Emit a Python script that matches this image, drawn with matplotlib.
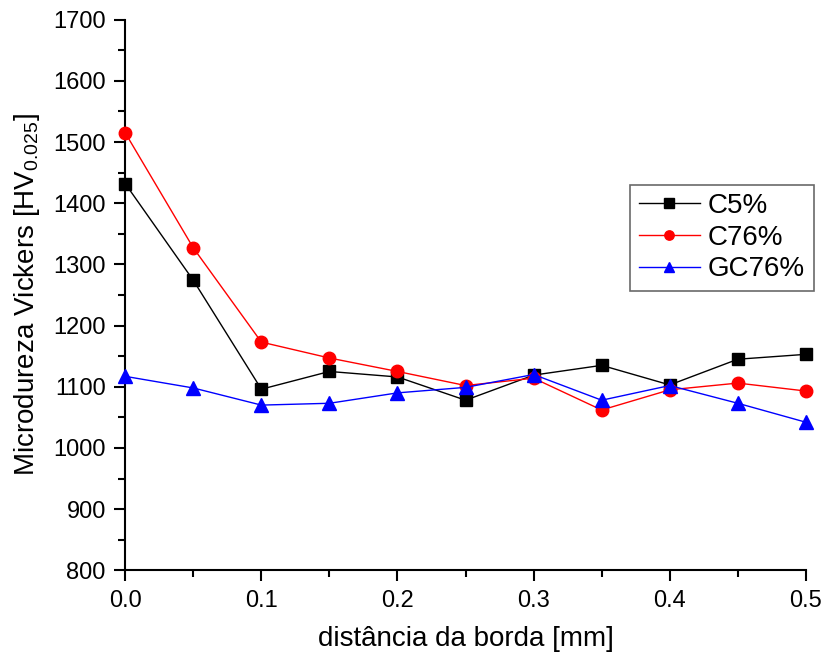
import matplotlib
matplotlib.use("Agg")
import matplotlib.pyplot as plt
from matplotlib.ticker import MultipleLocator

plt.rcParams["font.family"] = ["Liberation Sans", "DejaVu Sans"]
plt.rcParams["mathtext.fontset"] = "custom"
plt.rcParams["mathtext.rm"] = "Liberation Sans"

# distance from the edge [mm]
distance = [0.0, 0.05, 0.10, 0.15, 0.20, 0.25, 0.30, 0.35, 0.40, 0.45, 0.50]

# Vickers microhardness HV0.025
c5 = [1432, 1274, 1096, 1125, 1116, 1078, 1119, 1135, 1103, 1145, 1153]
c76 = [1515, 1327, 1173, 1147, 1125, 1102, 1114, 1062, 1095, 1106, 1093]
gc76 = [1117, 1098, 1070, 1073, 1090, 1099, 1120, 1078, 1102, 1073, 1042]

fig = plt.figure(figsize=(8.24, 6.57), dpi=100)
ax = fig.add_axes([0.152, 0.132, 0.826, 0.838])

ax.plot(distance, c5, color="black", lw=1.0, marker="s", ms=9, label="C5%", clip_on=False, zorder=3)
ax.plot(distance, c76, color="red", lw=1.0, marker="o", ms=9, label="C76%", clip_on=False, zorder=3)
ax.plot(distance, gc76, color="blue", lw=1.0, marker="^", ms=10, label="GC76%", clip_on=False, zorder=3)

ax.set_xlim(0, 0.5)
ax.set_ylim(800, 1700)
ax.xaxis.set_major_locator(MultipleLocator(0.1))
ax.xaxis.set_minor_locator(MultipleLocator(0.05))
ax.yaxis.set_major_locator(MultipleLocator(100))
ax.yaxis.set_minor_locator(MultipleLocator(50))
ax.xaxis.set_major_formatter(plt.FuncFormatter(lambda v, p: f"{v:.1f}"))

for side in ("top", "right"):
    ax.spines[side].set_visible(False)
for side in ("left", "bottom"):
    ax.spines[side].set_linewidth(1.5)

ax.tick_params(which="major", direction="out", length=8, width=1.5, labelsize=17, pad=6)
ax.tick_params(which="minor", direction="out", length=5, width=1.5)

ax.set_xlabel("distância da borda [mm]", fontsize=20, labelpad=10)
ax.set_ylabel("Microdureza Vickers [HV$_{0.025}$]", fontsize=20, labelpad=8)

leg = ax.legend(loc="upper left", bbox_to_anchor=(0.742, 0.70), fontsize=20,
                frameon=True, fancybox=False, edgecolor="#444444",
                handlelength=2.2, handletextpad=0.3, borderpad=0.3,
                labelspacing=0.2, markerscale=0.75, borderaxespad=0)
leg.get_frame().set_linewidth(1.2)

fig.savefig("out.png", dpi=100)
